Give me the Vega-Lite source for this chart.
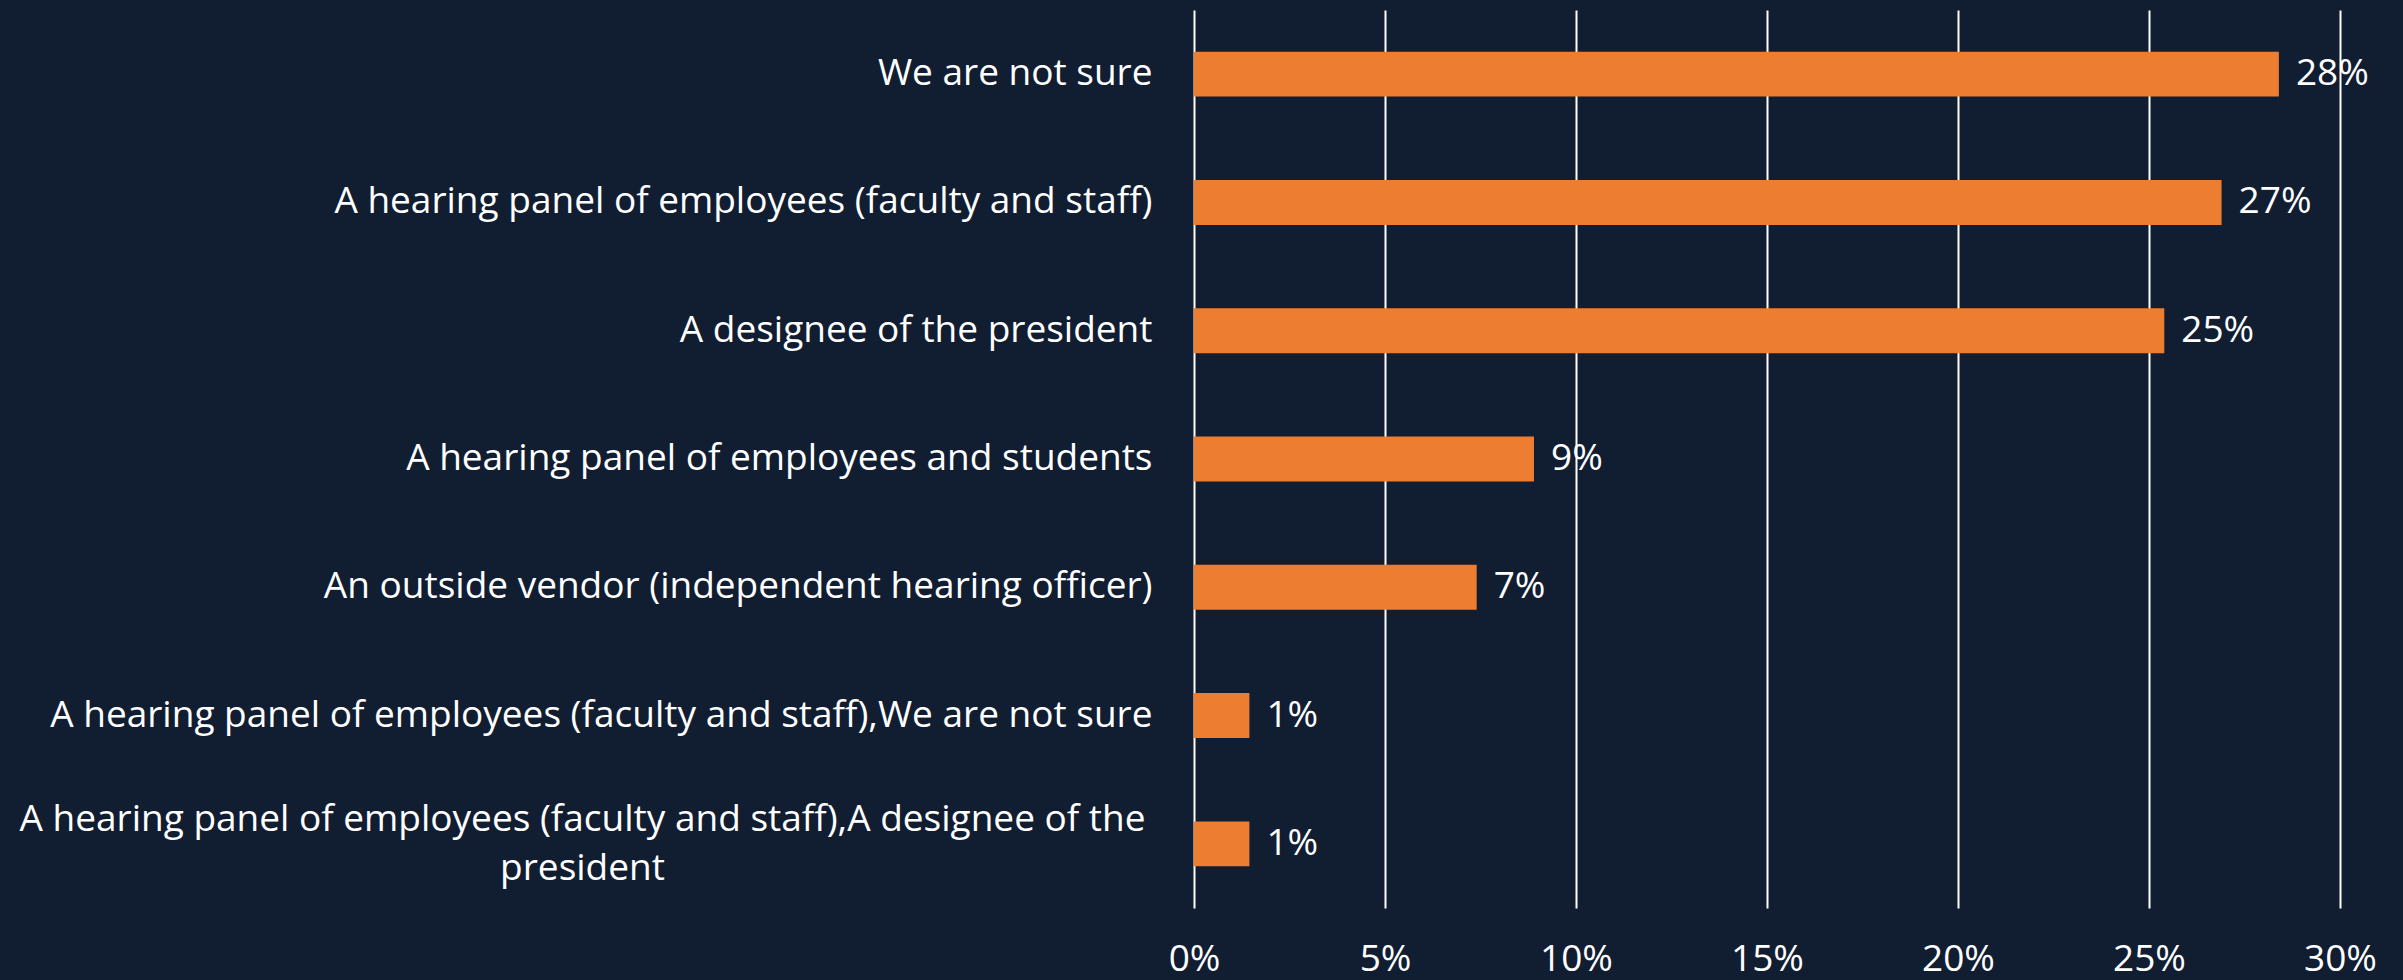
{
  "$schema": "https://vega.github.io/schema/vega-lite/v6.json",
  "autosize": "none",
  "width": 1146,
  "height": 898,
  "padding": {"left": 1194, "top": 10, "right": 63, "bottom": 72},
  "background": "#111d31",
  "config": {
    "view": {"stroke": null},
    "font": "Open Sans",
    "text": {"font": "Open Sans"}
  },
  "data": {
    "values": [
      {"response": "We are not sure", "share": 0.284},
      {"response": "A hearing panel of employees (faculty and staff)", "share": 0.269},
      {"response": "A designee of the president", "share": 0.254},
      {"response": "A hearing panel of employees and students", "share": 0.089},
      {"response": "An outside vendor (independent hearing officer)", "share": 0.074},
      {"response": "A hearing panel of employees (faculty and staff),We are not sure", "share": 0.0145},
      {"response": "A hearing panel of employees (faculty and staff),A designee of the president", "share": 0.0145}
    ]
  },
  "encoding": {
    "y": {
      "field": "response",
      "type": "nominal",
      "sort": null,
      "scale": {"paddingInner": 0.65, "paddingOuter": 0.325},
      "axis": {
        "title": null,
        "ticks": false,
        "domain": false,
        "labelColor": "#ffffff",
        "labelFont": "Open Sans",
        "labelFontSize": 37,
        "labelLimit": 0,
        "labelLineHeight": 49,
        "labelBaseline": "middle",
        "labelAlign": {"condition": {"test": "length(datum.value) > 70", "value": "center"}, "value": "right"},
        "labelPadding": {"condition": {"test": "length(datum.value) > 70", "value": 612}, "value": 42},
        "labelOffset": {"condition": {"test": "length(datum.value) > 70", "value": -24}, "value": 0},
        "labelExpr": "length(datum.value) > 70 ? ['A hearing panel of employees (faculty and staff),A designee of the', 'president'] : datum.label"
      }
    },
    "x": {
      "field": "share",
      "type": "quantitative",
      "scale": {"domain": [0, 0.3], "nice": false},
      "axis": {
        "title": null,
        "format": ".0%",
        "values": [0, 0.05, 0.1, 0.15, 0.2, 0.25, 0.3],
        "ticks": false,
        "domain": false,
        "grid": true,
        "gridColor": "#ffffff",
        "gridWidth": 2,
        "labelColor": "#ffffff",
        "labelFont": "Open Sans",
        "labelFontSize": 37,
        "labelPadding": 33,
        "labelBaseline": "top",
        "labelFlush": false
      }
    }
  },
  "layer": [
    {"mark": {"type": "bar", "color": "#ED7D31"}},
    {
      "mark": {"type": "text", "align": "left", "baseline": "middle", "dx": 17, "color": "#ffffff", "fontSize": 37, "font": "Open Sans"},
      "encoding": {"text": {"field": "share", "type": "quantitative", "format": ".0%"}}
    }
  ]
}
